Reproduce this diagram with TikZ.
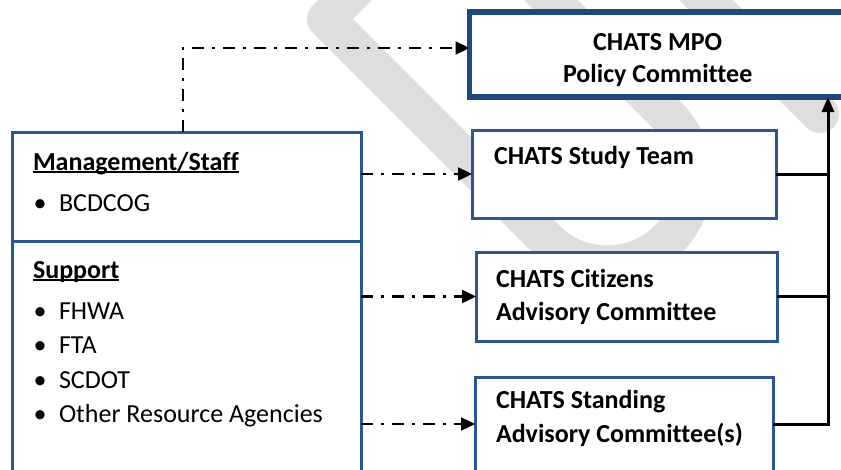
\documentclass[tikz,border=0pt]{standalone}
\usepackage{fontspec}
\setmainfont{Carlito}[Ligatures={NoCommon,NoRare,NoContextual}]
\usetikzlibrary{arrows.meta,calc}
\definecolor{wmgray}{RGB}{222,222,222}
\definecolor{boxblue}{RGB}{46,86,142}
\definecolor{mpoblue}{RGB}{33,72,125}
\begin{document}
\begin{tikzpicture}[x=1pt,y=1pt,
  box/.style={draw=boxblue,line width=3pt,fill=white,inner sep=0pt,outer sep=0pt,anchor=north west},
  mpobox/.style={box,draw=mpoblue,line width=5.5pt},
  txt/.style={inner sep=0pt,outer sep=0pt,font=\fontsize{26}{31}\selectfont,text=black},
  hdr/.style={txt,font=\fontsize{26}{31}\selectfont\bfseries,anchor=base west},
  ttl/.style={txt,font=\fontsize{26}{31}\selectfont\bfseries,anchor=base},
  item/.style={txt,anchor=base west},
  bul/.style={txt,anchor=base},
  ul/.style={line width=1.6pt,black},
  dd/.style={line width=2.4pt,black,dash pattern=on 12pt off 8pt on 3pt off 8pt,-{Triangle[length=14pt,width=13pt]}},
  link/.style={line width=3pt,black},
  wm/.style={draw=wmgray,line width=38pt,line join=round,line cap=round}]
\useasboundingbox (0,0) rectangle (841,-469);
\clip (0,0) rectangle (841,-469);
% watermark
\draw[wm] (447.6,102.5) -- (326,-19.1) -- (545.9,-239) arc[start angle=225,end angle=405,radius=86.6] -- cycle;
\draw[wm] (670,36) -- (820,-114);
% boxes
\node[box,minimum width=349pt,minimum height=109pt] (mgmt) at (12,-132) {};
\node[box,minimum width=349pt,minimum height=232pt] (support) at (12,-241) {};
\node[mpobox,minimum width=376.5pt,minimum height=85pt] (mpo) at (469.5,-12) {};
\node[box,minimum width=304pt,minimum height=88pt] (study) at (472,-130) {};
\node[box,minimum width=301pt,minimum height=89pt] (citizens) at (476,-252) {};
\node[box,minimum width=298pt,minimum height=94pt] (standing) at (475,-377) {};
% left texts
\node[hdr] (mgmtT) at (33,-170) {Management/Staff};
\draw[ul] ([yshift=-2pt]mgmtT.base west) -- ([yshift=-2pt]mgmtT.base east);
\node[bul] (b1) at (40,-211) {•};
\node[item] (i1) at (59,-211) {BCDCOG};
\node[hdr] (suppT) at (33,-278) {Support};
\draw[ul] ([yshift=-2pt]suppT.base west) -- ([yshift=-2pt]suppT.base east);
\node[bul] (b2) at (40,-319) {•};
\node[item] (i2) at (59,-319) {FHWA};
\node[bul] (b3) at (40,-353) {•};
\node[item] (i3) at (59,-353) {FTA};
\node[bul] (b4) at (40,-388) {•};
\node[item] (i4) at (59,-388) {SCDOT};
\node[bul] (b5) at (40,-422) {•};
\node[item] (i5) at (59,-422) {Other Resource Agencies};
% right texts
\node[ttl] (mpoT1) at (657.7,-50) {CHATS MPO};
\node[ttl] (mpoT2) at (657.7,-82) {Policy Committee};
\node[hdr] (studyT) at (494,-164) {CHATS Study Team};
\node[hdr] (citT1) at (496,-287) {CHATS Citizens};
\node[hdr] (citT2) at (496,-320) {Advisory Committee};
\node[hdr] (stT1) at (496,-408) {CHATS Standing};
\node[hdr] (stT2) at (496,-442) {Advisory Committee(s)};
% solid connectors
\coordinate (bus) at (828,0);
\draw[link] (study.east) -- (study.east -| bus);
\draw[link] (citizens.east) -- (citizens.east -| bus);
\draw[link,-{Triangle[length=15pt,width=12pt]}] (standing.east) -- (standing.east -| bus) -- (mpo.south -| bus);
% dash-dot connectors
\coordinate (topturn) at (183,-48);
\draw[dd] (mgmt.north -| topturn) -- (topturn) -- (topturn -| mpo.west);
\draw[dd] (mgmt.east |- study.west) -- (study.west);
\draw[dd] (support.east |- citizens.west) -- (citizens.west);
\draw[dd] (support.east |- standing.west) -- (standing.west);
\end{tikzpicture}
\end{document}
